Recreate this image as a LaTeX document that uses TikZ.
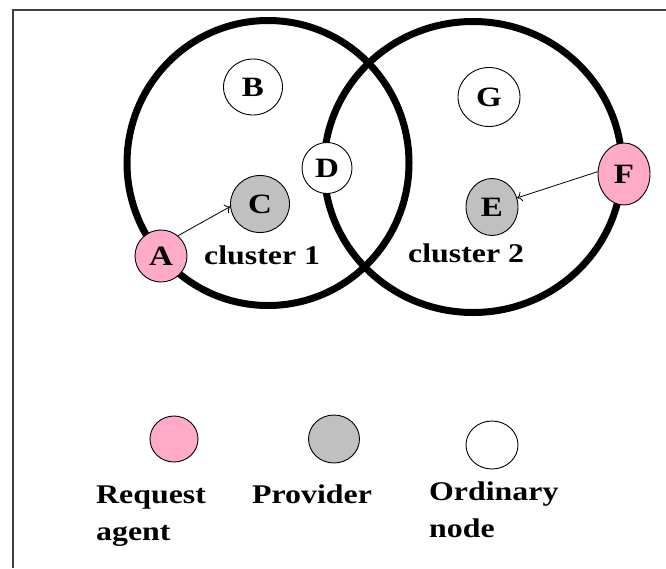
\documentclass[tikz,border=0pt]{standalone}
\usepackage{fontspec}
\setmainfont{Liberation Serif}
\usetikzlibrary{shapes.geometric,arrows.meta}
% bold labels are set a little wider than the font's natural width
\newcommand{\widetext}[1]{\scalebox{1.18}[1]{#1}}
\definecolor{agentpink}{RGB}{255,171,200}
\definecolor{providergray}{RGB}{192,192,192}
\begin{document}
\begin{tikzpicture}[x=1pt,y=-1pt,
  cluster/.style={draw=black, line width=7pt, ellipse, inner sep=0pt},
  peer/.style={draw=black, line width=0.9pt, ellipse, inner sep=0pt,
    font=\fontsize{28}{32}\selectfont\bfseries},
  agent/.style={peer, fill=agentpink},
  provider/.style={peer, fill=providergray},
  ordinary/.style={peer, fill=white},
  caption/.style={inner sep=0pt, font=\fontsize{27}{37}\selectfont\bfseries},
  link/.style={line width=0.8pt, -{To[length=5pt,width=10pt]}},
  frameline/.style={line width=2pt, draw=black!75}]
\useasboundingbox (0,0) rectangle (666,568);

% open frame along the top and left
\draw[frameline] (13,568) -- (13,10) -- (666,10);

% the two clusters
\node[cluster, minimum width=282pt, minimum height=285pt] (k1) at (268,163) {};
\node[cluster, minimum width=298pt, minimum height=291pt] (k2) at (473,167) {};

% members
\node[agent,    minimum width=52pt, minimum height=52pt] (A) at (161,256) {\widetext{A}};
\node[ordinary, minimum width=59pt, minimum height=56pt] (B) at (253,87)  {\widetext{B}};
\node[provider, minimum width=59pt, minimum height=57pt] (C) at (260,204) {\widetext{C}};
\node[ordinary, minimum width=50pt, minimum height=51pt] (D) at (327,168) {\widetext{D}};
\node[provider, minimum width=52pt, minimum height=57pt] (E) at (492,207) {\widetext{E}};
\node[agent,    minimum width=52pt, minimum height=62pt] (F) at (624,174) {\widetext{F}};
\node[ordinary, minimum width=62pt, minimum height=59pt] (G) at (489,97)  {\widetext{G}};

\node[caption, anchor=base west] (c1) at (204,264) {\widetext{cluster 1}};
\node[caption, anchor=base west] (c2) at (408,262) {\widetext{cluster 2}};

% requests
\draw[link] (A.50) -- (C.185);
\draw[link] (F.175) -- (E.20);

% legend
\node[agent,    minimum width=48pt, minimum height=46pt] (LA) at (174,439) {};
\node[provider, minimum width=51pt, minimum height=48pt] (LP) at (334,439) {};
\node[ordinary, minimum width=52pt, minimum height=48pt] (LO) at (492,445) {};

\node[caption, anchor=base west] (tA) at (96,503)
  {\widetext{\begin{tabular}[t]{@{}l@{}}Request\\agent\end{tabular}}};
\node[caption, anchor=base west] (tP) at (252,503) {\widetext{Provider}};
\node[caption, anchor=base west] (tO) at (429,500)
  {\widetext{\begin{tabular}[t]{@{}l@{}}Ordinary\\node\end{tabular}}};
\end{tikzpicture}
\end{document}
